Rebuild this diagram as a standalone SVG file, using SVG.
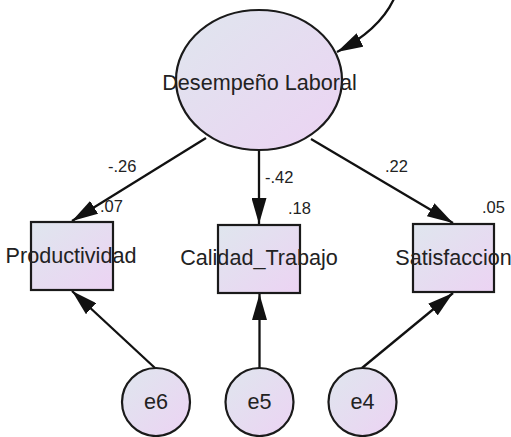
<svg xmlns="http://www.w3.org/2000/svg" width="511" height="437" viewBox="0 0 511 437">
<defs>
<linearGradient id="fillGrad" x1="0" y1="0" x2="1" y2="1">
<stop offset="0" stop-color="#dfe6ee"/>
<stop offset="1" stop-color="#ecd3f3"/>
</linearGradient>
<marker id="arrow" markerUnits="userSpaceOnUse" markerWidth="27" markerHeight="15" refX="26" refY="7.5" orient="auto">
<path d="M0,0 L26,7.5 L0,15 z" fill="#111"/>
</marker>
<style>
.shape{fill:url(#fillGrad);stroke:#1a1a1a;stroke-width:2.2}
.lbl{font-family:"Liberation Sans",Arial,sans-serif;font-size:21.6px;fill:#222;text-anchor:middle}
.num{font-family:"Liberation Sans",Arial,sans-serif;font-size:16.5px;fill:#222}
.conn{fill:none;stroke:#111;stroke-width:2.3;marker-end:url(#arrow)}
</style>
</defs>
<rect width="511" height="437" fill="#ffffff"/>
<g id="connectors">
<path class="conn" d="M396,-6 C386,20 364,38 337,52"/>
<path class="conn" d="M206,138 L72,221"/>
<path class="conn" d="M259,150 L259,224"/>
<path class="conn" d="M311,139 L453,223"/>
<path class="conn" d="M155,368 L72,291"/>
<path class="conn" d="M259.5,368 L259.5,294"/>
<path class="conn" d="M362,368 L453,293"/>
</g>
<g id="desempeno">
<ellipse class="shape" cx="259" cy="80" rx="83" ry="70"/>
<text class="lbl" x="259.5" y="90">Desempeño Laboral</text>
</g>
<g id="productividad">
<rect class="shape" x="31" y="222" width="82" height="68"/>
<text class="lbl" x="71" y="263">Productividad</text>
</g>
<g id="calidad">
<rect class="shape" x="218" y="225" width="82" height="68"/>
<text class="lbl" x="259" y="265">Calidad_Trabajo</text>
</g>
<g id="satisfaccion">
<rect class="shape" x="413" y="224" width="81" height="68"/>
<text class="lbl" x="453.5" y="265">Satisfaccion</text>
</g>
<g id="e6">
<circle class="shape" cx="156" cy="402" r="34"/>
<text class="lbl" x="156" y="409">e6</text>
</g>
<g id="e5">
<circle class="shape" cx="259.5" cy="402" r="34"/>
<text class="lbl" x="259.5" y="409">e5</text>
</g>
<g id="e4">
<circle class="shape" cx="362.5" cy="402" r="34"/>
<text class="lbl" x="362.5" y="409">e4</text>
</g>
<g id="labels">
<text class="num" x="108" y="172">-.26</text>
<text class="num" x="100" y="212">.07</text>
<text class="num" x="265" y="183">-.42</text>
<text class="num" x="288" y="214">.18</text>
<text class="num" x="385" y="172">.22</text>
<text class="num" x="482" y="213">.05</text>
</g>
</svg>
